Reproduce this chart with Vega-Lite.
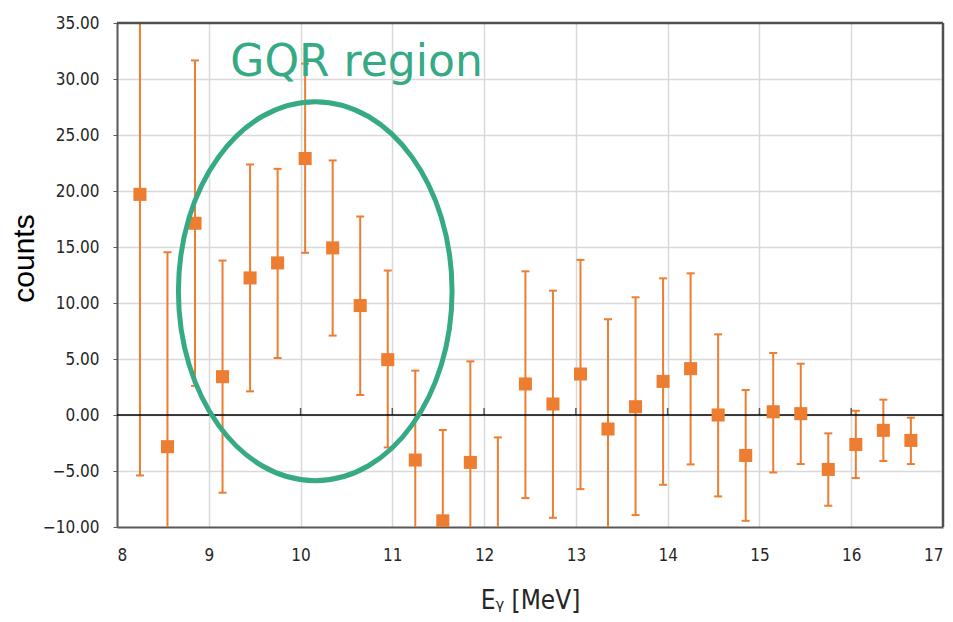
{
  "$schema": "https://vega.github.io/schema/vega-lite/v6.json",
  "width": 826,
  "height": 504,
  "autosize": {"type": "none"},
  "padding": {"left": 117, "top": 23, "right": 10, "bottom": 95},
  "background": "white",
  "config": {
    "view": {"stroke": null},
    "axis": {
      "labelFont": "DejaVu Sans Condensed",
      "labelFontSize": 17,
      "labelColor": "#262626",
      "gridColor": "#d9d9d9",
      "gridWidth": 1.5,
      "domainColor": "#595959",
      "domainWidth": 2,
      "tickColor": "#595959"
    }
  },
  "datasets": {
    "pts": [
      {"E": 8.25, "counts": 19.7, "lo": -5.4, "hi": 44.8},
      {"E": 8.55, "counts": -2.83, "lo": -20.2, "hi": 14.53},
      {"E": 8.85, "counts": 17.12, "lo": 2.6, "hi": 31.66},
      {"E": 9.15, "counts": 3.42, "lo": -6.94, "hi": 13.79},
      {"E": 9.45, "counts": 12.24, "lo": 2.11, "hi": 22.37},
      {"E": 9.75, "counts": 13.58, "lo": 5.09, "hi": 21.98},
      {"E": 10.05, "counts": 22.9, "lo": 14.48, "hi": 31.37},
      {"E": 10.35, "counts": 14.92, "lo": 7.09, "hi": 22.73},
      {"E": 10.65, "counts": 9.77, "lo": 1.79, "hi": 17.72},
      {"E": 10.95, "counts": 4.94, "lo": -2.9, "hi": 12.9},
      {"E": 11.25, "counts": -4.02, "lo": -12.0, "hi": 3.96},
      {"E": 11.55, "counts": -9.45, "lo": -17.6, "hi": -1.34},
      {"E": 11.85, "counts": -4.23, "lo": -13.2, "hi": 4.79},
      {"E": 12.15, "counts": -11.5, "lo": -21.0, "hi": -2.0},
      {"E": 12.45, "counts": 2.77, "lo": -7.42, "hi": 12.83},
      {"E": 12.75, "counts": 0.98, "lo": -9.18, "hi": 11.1},
      {"E": 13.05, "counts": 3.66, "lo": -6.62, "hi": 13.85},
      {"E": 13.35, "counts": -1.25, "lo": -11.05, "hi": 8.55},
      {"E": 13.65, "counts": 0.74, "lo": -8.94, "hi": 10.51},
      {"E": 13.95, "counts": 3.0, "lo": -6.23, "hi": 12.2},
      {"E": 14.25, "counts": 4.14, "lo": -4.41, "hi": 12.65},
      {"E": 14.55, "counts": 0.0, "lo": -7.27, "hi": 7.2},
      {"E": 14.85, "counts": -3.61, "lo": -9.45, "hi": 2.23},
      {"E": 15.15, "counts": 0.29, "lo": -5.13, "hi": 5.54},
      {"E": 15.45, "counts": 0.12, "lo": -4.38, "hi": 4.58},
      {"E": 15.75, "counts": -4.86, "lo": -8.1, "hi": -1.64},
      {"E": 16.05, "counts": -2.63, "lo": -5.63, "hi": 0.38},
      {"E": 16.35, "counts": -1.37, "lo": -4.11, "hi": 1.37},
      {"E": 16.65, "counts": -2.27, "lo": -4.38, "hi": -0.24}
    ],
    "zeroTicks": [
      {"E": 9, "counts": 0}, {"E": 10, "counts": 0}, {"E": 11, "counts": 0}, {"E": 12, "counts": 0},
      {"E": 13, "counts": 0}, {"E": 14, "counts": 0}, {"E": 15, "counts": 0}, {"E": 16, "counts": 0}
    ],
    "zeroLine": [{"counts": 0}],
    "topEdge": [{"counts": 35}],
    "rightEdge": [{"E": 17}],
    "ann": [
      {"E": 10.16, "counts": 11.06, "label": "GQR region", "tx": 10.61, "ty": 30.3}
    ]
  },
  "layer": [
    {
      "data": {"name": "pts"},
      "mark": {"type": "rule", "color": "#ED7D31", "strokeWidth": 2, "clip": true},
      "encoding": {
        "x": {
          "field": "E",
          "type": "quantitative",
          "scale": {"domain": [8, 17], "nice": false, "zero": false},
          "axis": {
            "values": [8, 9, 10, 11, 12, 13, 14, 15, 16, 17],
            "format": "d",
            "ticks": false,
            "labelPadding": 20,
            "gridOpacity": {"condition": {"test": "datum.value == 17 || datum.value == 8", "value": 0}, "value": 1},
            "title": "Eᵧ [MeV]",
            "titleFont": "DejaVu Sans Condensed",
            "titleFontSize": 26,
            "titleFontWeight": "normal",
            "titleColor": "#262626",
            "titlePadding": 24
          }
        },
        "y": {
          "field": "lo",
          "type": "quantitative",
          "scale": {"domain": [-10, 35], "nice": false, "zero": false},
          "axis": {
            "values": [-10, -5, 0, 5, 10, 15, 20, 25, 30, 35],
            "format": ".2f",
            "tickSize": 4,
            "labelPadding": 14,
            "gridOpacity": {"condition": {"test": "datum.value == 35 || datum.value == -10", "value": 0}, "value": 1},
            "title": "counts",
            "titleFont": "Liberation Sans",
            "titleFontSize": 30,
            "titleFontWeight": "normal",
            "titleColor": "#000000",
            "titleX": -78,
            "titleY": 235
          }
        },
        "y2": {"field": "hi"}
      }
    },
    {
      "data": {"name": "zeroTicks"},
      "mark": {"type": "point", "shape": "M0,0L0,-1", "filled": false, "size": 196, "color": "#595959", "strokeWidth": 1.5, "opacity": 1},
      "encoding": {
        "x": {"field": "E", "type": "quantitative"},
        "y": {"field": "counts", "type": "quantitative"}
      }
    },
    {
      "data": {"name": "topEdge"},
      "mark": {"type": "rule", "color": "#505050", "strokeWidth": 2.5},
      "encoding": {"y": {"field": "counts", "type": "quantitative"}}
    },
    {
      "data": {"name": "rightEdge"},
      "mark": {"type": "rule", "color": "#505050", "strokeWidth": 2.5},
      "encoding": {"x": {"field": "E", "type": "quantitative"}}
    },
    {
      "data": {"name": "pts"},
      "mark": {"type": "tick", "orient": "horizontal", "color": "#ED7D31", "size": 8, "thickness": 2, "clip": true, "opacity": 1},
      "encoding": {
        "x": {"field": "E", "type": "quantitative"},
        "y": {"field": "lo", "type": "quantitative"}
      }
    },
    {
      "data": {"name": "pts"},
      "mark": {"type": "tick", "orient": "horizontal", "color": "#ED7D31", "size": 8, "thickness": 2, "clip": true, "opacity": 1},
      "encoding": {
        "x": {"field": "E", "type": "quantitative"},
        "y": {"field": "hi", "type": "quantitative"}
      }
    },
    {
      "data": {"name": "zeroLine"},
      "mark": {"type": "rule", "color": "#000000", "strokeWidth": 1.5},
      "encoding": {"y": {"field": "counts", "type": "quantitative"}}
    },
    {
      "data": {"name": "pts"},
      "mark": {"type": "point", "shape": "square", "filled": true, "size": 170, "color": "#ED7D31", "opacity": 1, "clip": true},
      "encoding": {
        "x": {"field": "E", "type": "quantitative"},
        "y": {"field": "counts", "type": "quantitative"}
      }
    },
    {
      "data": {"name": "ann"},
      "mark": {
        "type": "point",
        "shape": "M0.722,0C0.722,0.552,0.399,1,0,1C-0.399,1,-0.722,0.552,-0.722,0C-0.722,-0.552,-0.399,-1,0,-1C0.399,-1,0.722,-0.552,0.722,0Z",
        "filled": false,
        "size": 143641,
        "color": "#36A985",
        "strokeWidth": 5,
        "opacity": 1
      },
      "encoding": {
        "x": {"field": "E", "type": "quantitative"},
        "y": {"field": "counts", "type": "quantitative"}
      }
    },
    {
      "data": {"name": "ann"},
      "mark": {
        "type": "text",
        "font": "DejaVu Sans",
        "fontSize": 44,
        "color": "#36A985",
        "align": "center",
        "baseline": "alphabetic"
      },
      "encoding": {
        "x": {"field": "tx", "type": "quantitative"},
        "y": {"field": "ty", "type": "quantitative"},
        "text": {"field": "label"}
      }
    }
  ]
}
